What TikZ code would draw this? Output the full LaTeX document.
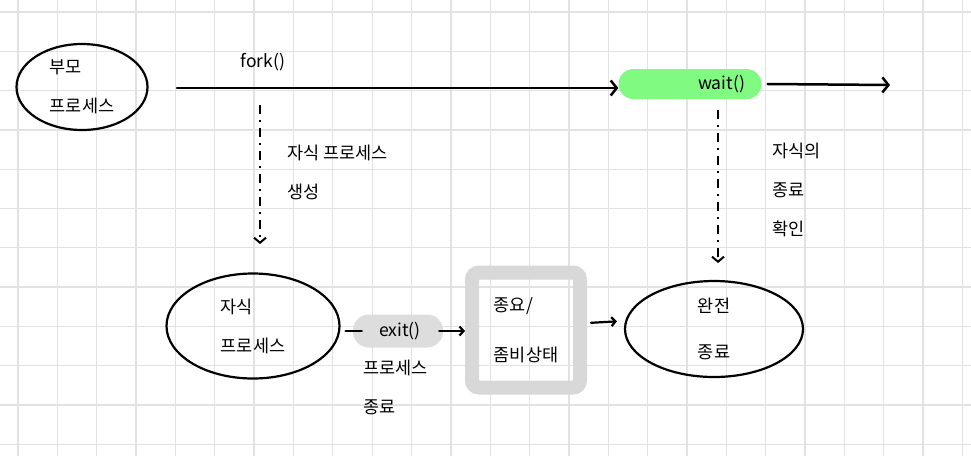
\documentclass[tikz,border=0pt]{standalone}
\usepackage{fontspec}
\setmainfont{Noto Sans CJK KR}
\usetikzlibrary{arrows.meta,shapes.geometric}
\definecolor{gridc}{RGB}{226,226,226}
\definecolor{waitg}{RGB}{128,250,128}
\definecolor{blobg}{RGB}{221,221,221}
\definecolor{boxg}{RGB}{216,216,216}
\tikzset{
  txt/.style={font=\fontsize{17.5}{39}\selectfont, inner sep=0pt},
  oval/.style={draw, ellipse, line width=2.2pt, font=\fontsize{17.5}{39}\selectfont, align=left, inner sep=0pt},
  mainarrow/.style={line width=2.5pt, line cap=round, -{Straight Barb[length=6pt,width=15pt,line width=2.5pt]}},
  smallarrow/.style={line width=2.2pt, line cap=round, -{Straight Barb[length=4pt,width=9pt,line width=2.2pt]}},
  dasharrow/.style={line width=1.6pt, dash pattern=on 9pt off 6pt on 2pt off 6pt, -{Straight Barb[length=5pt,width=12pt,line width=2pt]}},
}
\begin{document}
\begin{tikzpicture}[x=1pt,y=-1pt]
\useasboundingbox (0,0) rectangle (971,456);
\fill[white] (0,0) rectangle (971,456);
% grid
\foreach \k in {0,...,24} {\draw[gridc, line width=1.3pt] ({18+39.35*\k},0) -- ({18+39.35*\k},456);}
\foreach \k in {0,...,11} {\draw[gridc, line width=1.3pt] (0,{12+39.3*\k}) -- (971,{12+39.3*\k});}

% parent
\node[oval, minimum width=131pt, minimum height=86pt] (parent) at (82,87) {부모\\프로세스};
\node[txt] (forklbl) at (263,62) {fork()};

% wait
\node[fill=waitg, rounded corners=15pt, minimum height=30pt, text width=110pt, align=right, inner xsep=16.5pt, inner ysep=0pt, font=\fontsize{17.5}{20}\selectfont] (wait) at (690,84) {wait()};

\coordinate (forkstart) at (177,88);
\coordinate (endpt) at (890,85);
\draw[mainarrow] (forkstart) -- (wait.west |- forkstart);
\draw[mainarrow] ([xshift=6pt]wait.east) -- (endpt);

% dashed arrow: fork -> child
\coordinate (d1a) at (260,105);
\coordinate (d1b) at (260,244);
\draw[dasharrow] (d1a) -- (d1b);
\node[txt, anchor=west, align=left] (createlbl) at (287,172) {자식 프로세스\\생성};

% dashed arrow: wait -> done
\coordinate (d2a) at (718,110);
\coordinate (d2b) at (718,263);
\draw[dasharrow] (d2a) -- (d2b);
\node[txt, anchor=west, align=left] (checklbl) at (772,190) {자식의\\종료\\확인};

% child
\node[oval, minimum width=173pt, minimum height=105pt] (child) at (253,326) {자식\\프로세스};

% exit
\node[fill=blobg, rounded corners=16pt, minimum width=90pt, minimum height=33pt, inner sep=0pt, font=\fontsize{17.5}{20}\selectfont] (exit) at (398,331) {\hspace*{4pt}exit()};
\draw[line width=2.4pt, line cap=round, shorten <=5pt, shorten >=-9pt] (child.east |- exit.west) -- (exit.west);
\node[txt, anchor=north west, align=left] (exitlbl) at (363,360) {프로세스\\종료};

% zombie box
\node[draw=boxg, line width=14pt, rounded corners=7pt, minimum width=108pt, minimum height=115pt, inner sep=0pt, font=\fontsize{17.5}{50}\selectfont, align=left] (zombie) at (526,330) {종요/\\좀비상태};
\draw[smallarrow, shorten <=-4pt] (exit.east) -- ([yshift=-1pt]zombie.west);

% done
\node[oval, minimum width=178pt, minimum height=96pt, font=\fontsize{17.5}{46}\selectfont] (done) at (714,329) {완전\\종료};
\draw[smallarrow, shorten <=4pt, shorten >=7pt] ([yshift=7pt]zombie.east) -- ([yshift=8pt]done.west);
\end{tikzpicture}
\end{document}
